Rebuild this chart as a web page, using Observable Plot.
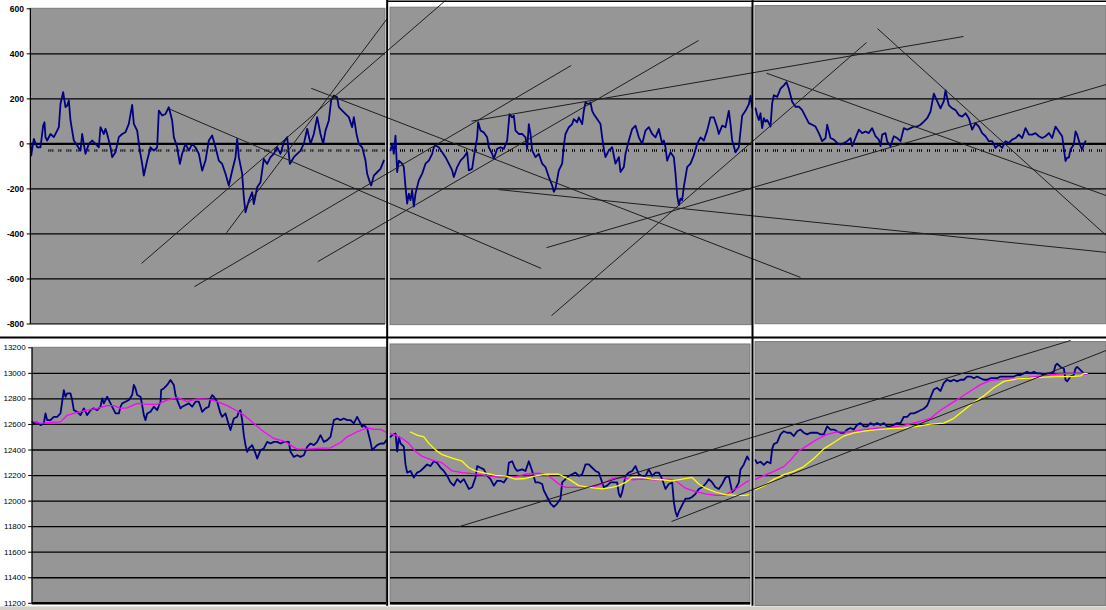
<!DOCTYPE html>
<html><head><meta charset="utf-8">
<script src="https://cdn.jsdelivr.net/npm/d3@7"></script>
<script src="https://cdn.jsdelivr.net/npm/@observablehq/plot@0.6"></script>
<style>
html,body{margin:0;padding:0;background:#fff;}
#chart{width:1106px;height:610px;overflow:hidden;}
#chart svg{display:block;}
</style></head><body><div id="chart"></div>
<script>
// ---------- DATA (t = time index, v = value) ----------
const oscTicks = [600, 400, 200, 0, -200, -400, -600, -800];
const priceTicks = [13200, 13000, 12800, 12600, 12400, 12200, 12000, 11800, 11600, 11400, 11200];

const oscP1 = [[90,0],[92,-52],[100,22],[110,-15],[120,-15],[128,81],[132,96],[135,30],[140,15],[150,44],[160,30],[170,59],[175,74],[180,178],[188,230],[195,163],[200,170],[205,193],[210,104],[215,59],[220,15],[230,-7],[240,-30],[245,44],[255,-44],[265,0],[275,15],[285,0],[295,-15],[300,74],[310,44],[315,67],[320,44],[330,-15],[335,-59],[345,-37],[355,30],[365,44],[375,52],[385,89],[395,173],[400,89],[410,59],[418,-30],[425,-89],[430,-141],[440,-74],[450,-15],[460,-30],[470,-15],[475,148],[485,126],[495,133],[505,163],[515,104],[520,30],[530,-15],[538,-89],[545,-44],[555,0],[565,-30],[575,0],[585,-15],[595,-44],[605,-119],[615,-74],[625,15],[635,37],[645,-15],[655,-74],[665,-89],[675,-133],[685,-185],[695,-119],[705,-59],[710,22],[715,-59],[725,-133],[730,-237],[735,-304],[745,-252],[755,-215],[760,-267],[770,-193],[780,-170],[790,-67],[800,-89],[810,-59],[820,-44],[830,-15],[840,-44],[850,7],[860,30],[868,-89],[880,-59],[890,-44],[900,-30],[910,0],[920,67],[930,0],[940,44],[950,119],[960,44],[968,0],[975,59],[985,104],[992,193],[1000,215],[1010,207],[1015,163],[1025,148],[1035,133],[1045,119],[1055,74],[1060,119],[1068,44],[1075,0],[1085,-15],[1095,-74],[1100,-133],[1108,-170],[1112,-185],[1120,-141],[1130,-126],[1140,-111],[1150,-74]];

const oscP2 = [[1170,-29],[1175,0],[1180,-44],[1185,37],[1190,-125],[1195,-74],[1205,-88],[1210,-103],[1215,-191],[1220,-265],[1225,-221],[1230,-250],[1235,-206],[1240,-279],[1245,-221],[1250,-191],[1255,-162],[1265,-132],[1275,-88],[1285,-74],[1295,-44],[1300,-15],[1305,-7],[1315,-15],[1325,-37],[1335,-59],[1345,-88],[1355,-118],[1360,-147],[1370,-103],[1380,-74],[1390,-59],[1400,-37],[1405,-118],[1415,-110],[1420,-59],[1425,-15],[1430,29],[1433,96],[1440,59],[1450,51],[1460,29],[1465,-15],[1475,-44],[1480,-66],[1490,-22],[1500,-15],[1510,-22],[1520,15],[1527,132],[1535,118],[1540,125],[1545,59],[1555,44],[1565,44],[1575,29],[1580,-22],[1585,88],[1590,44],[1595,-29],[1605,-59],[1615,-44],[1625,-88],[1635,-103],[1645,-147],[1655,-184],[1660,-213],[1665,-199],[1675,-118],[1685,-88],[1690,-7],[1695,44],[1705,74],[1715,88],[1720,110],[1730,96],[1735,118],[1745,88],[1750,147],[1755,184],[1765,176],[1770,184],[1775,147],[1780,132],[1790,110],[1800,88],[1805,29],[1810,-22],[1815,-59],[1825,-29],[1835,-15],[1845,-88],[1855,-59],[1860,-125],[1870,-103],[1875,-44],[1885,15],[1895,66],[1905,81],[1915,29],[1925,0],[1935,59],[1945,74],[1955,44],[1965,29],[1975,66],[1985,0],[1990,15],[1995,-15],[2000,-74],[2010,-37],[2020,-59],[2025,-132],[2030,-228],[2035,-272],[2040,-243],[2045,-250],[2050,-191],[2060,-103],[2070,-88],[2080,-51],[2090,0],[2100,29],[2110,15],[2120,59],[2130,118],[2140,118],[2150,74],[2155,44],[2165,81],[2175,74],[2185,147],[2190,88],[2195,15],[2205,-37],[2215,-15],[2225,125],[2235,147],[2245,176],[2250,213],[2255,162]];

const oscP3 = [[2265,158],[2270,128],[2275,106],[2280,136],[2285,70],[2290,114],[2295,99],[2300,106],[2305,92],[2310,77],[2315,180],[2320,216],[2330,209],[2340,245],[2350,260],[2358,274],[2365,245],[2370,216],[2375,187],[2385,165],[2395,165],[2405,150],[2415,121],[2425,92],[2435,85],[2445,77],[2455,48],[2465,12],[2475,26],[2480,85],[2490,26],[2500,19],[2510,4],[2520,-3],[2530,4],[2540,12],[2550,26],[2555,-10],[2565,26],[2575,63],[2585,48],[2595,55],[2605,48],[2615,70],[2625,34],[2635,19],[2640,-10],[2645,41],[2655,48],[2660,12],[2670,-10],[2680,34],[2690,26],[2700,12],[2710,70],[2720,63],[2730,70],[2740,77],[2750,77],[2760,85],[2770,99],[2780,114],[2790,143],[2800,223],[2810,190],[2820,158],[2830,190],[2835,238],[2845,172],[2855,158],[2865,150],[2875,128],[2885,121],[2895,136],[2905,114],[2915,63],[2925,92],[2935,77],[2945,48],[2955,34],[2965,12],[2975,12],[2985,-18],[2995,-3],[3005,-18],[3015,12],[3025,4],[3035,19],[3045,26],[3055,41],[3065,26],[3075,70],[3085,41],[3095,41],[3105,48],[3115,34],[3125,26],[3135,34],[3145,48],[3155,26],[3165,77],[3175,55],[3185,34],[3195,-76],[3200,-61],[3205,-61],[3210,-25],[3220,-3],[3225,55],[3230,41],[3240,-10],[3245,-25],[3250,-3],[3255,12]];

const priceP1 = [[95,12621],[100,12608],[110,12616],[120,12595],[130,12608],[135,12686],[140,12634],[150,12634],[160,12660],[170,12660],[180,12686],[185,12778],[190,12869],[195,12817],[200,12843],[210,12843],[215,12791],[220,12712],[230,12699],[240,12673],[250,12726],[260,12673],[270,12712],[280,12726],[290,12712],[300,12739],[305,12804],[310,12765],[320,12817],[330,12765],[340,12712],[345,12686],[355,12686],[360,12739],[365,12765],[375,12778],[385,12791],[395,12830],[400,12909],[405,12882],[410,12830],[420,12817],[425,12752],[430,12673],[435,12634],[440,12686],[450,12699],[460,12739],[470,12712],[480,12778],[482,12869],[490,12882],[500,12909],[510,12948],[520,12909],[525,12830],[530,12791],[540,12726],[545,12739],[555,12752],[565,12765],[575,12739],[585,12778],[595,12778],[605,12699],[615,12726],[625,12739],[630,12804],[635,12830],[640,12817],[650,12778],[660,12686],[665,12660],[675,12686],[685,12595],[690,12556],[700,12647],[710,12660],[715,12699],[720,12712],[725,12634],[730,12516],[735,12438],[740,12386],[745,12412],[755,12438],[765,12373],[770,12333],[780,12399],[790,12412],[800,12464],[810,12451],[820,12464],[830,12464],[840,12451],[850,12464],[860,12464],[865,12464],[870,12386],[880,12346],[890,12359],[900,12346],[910,12359],[920,12425],[930,12451],[940,12438],[950,12464],[960,12516],[970,12464],[980,12477],[990,12503],[1000,12634],[1010,12647],[1020,12634],[1030,12647],[1040,12634],[1050,12634],[1060,12608],[1070,12660],[1080,12608],[1085,12582],[1090,12595],[1100,12569],[1105,12516],[1110,12464],[1115,12399],[1120,12412],[1130,12438],[1140,12451],[1150,12451],[1158,12477]];

const priceP2 = [[1170,12503],[1175,12516],[1185,12529],[1190,12388],[1195,12503],[1200,12452],[1205,12439],[1210,12427],[1215,12287],[1220,12223],[1230,12236],[1240,12185],[1250,12223],[1260,12236],[1270,12261],[1280,12287],[1290,12274],[1300,12312],[1310,12299],[1320,12261],[1330,12236],[1340,12197],[1350,12146],[1360,12121],[1370,12172],[1380,12146],[1390,12172],[1400,12121],[1405,12095],[1415,12108],[1425,12185],[1430,12274],[1440,12261],[1450,12248],[1460,12197],[1470,12172],[1480,12121],[1490,12159],[1500,12159],[1510,12146],[1520,12185],[1525,12299],[1535,12312],[1543,12261],[1550,12236],[1565,12248],[1575,12236],[1585,12312],[1595,12236],[1605,12146],[1615,12146],[1625,12134],[1630,12083],[1640,12032],[1650,11981],[1660,11955],[1670,11981],[1680,12019],[1685,12146],[1695,12172],[1705,12197],[1715,12210],[1725,12223],[1735,12197],[1745,12210],[1755,12287],[1765,12287],[1775,12261],[1785,12236],[1795,12223],[1805,12146],[1810,12108],[1820,12121],[1830,12146],[1840,12146],[1850,12146],[1855,12057],[1860,12032],[1865,12070],[1875,12197],[1885,12223],[1895,12236],[1905,12274],[1915,12210],[1925,12197],[1935,12197],[1945,12248],[1955,12197],[1965,12223],[1975,12223],[1985,12172],[1995,12095],[2005,12134],[2015,12146],[2020,11994],[2025,11917],[2030,11879],[2035,11917],[2045,11968],[2055,12019],[2065,12019],[2075,12032],[2085,12057],[2095,12095],[2105,12108],[2115,12134],[2125,12172],[2135,12146],[2145,12108],[2155,12095],[2165,12134],[2175,12185],[2185,12197],[2195,12070],[2205,12095],[2215,12146],[2220,12248],[2230,12287],[2240,12350],[2245,12325]];

const priceP3 = [[2265,12321],[2270,12296],[2280,12308],[2290,12283],[2300,12308],[2310,12296],[2315,12409],[2320,12446],[2330,12459],[2340,12522],[2350,12547],[2360,12535],[2370,12535],[2380,12509],[2390,12547],[2400,12560],[2410,12535],[2420,12522],[2430,12535],[2440,12535],[2450,12535],[2460,12522],[2470,12522],[2480,12585],[2490,12560],[2500,12560],[2510,12547],[2520,12535],[2530,12535],[2540,12560],[2550,12572],[2560,12560],[2570,12597],[2580,12610],[2590,12585],[2600,12585],[2610,12610],[2620,12597],[2630,12610],[2640,12597],[2650,12610],[2660,12585],[2670,12585],[2680,12597],[2690,12610],[2700,12610],[2710,12660],[2720,12660],[2730,12686],[2740,12686],[2750,12698],[2760,12711],[2770,12723],[2780,12748],[2790,12811],[2800,12874],[2810,12887],[2820,12862],[2830,12925],[2840,12950],[2850,12937],[2860,12950],[2870,12937],[2880,12950],[2890,12950],[2900,12975],[2910,12975],[2920,12962],[2930,12975],[2940,12962],[2950,12950],[2960,12950],[2970,12962],[2980,12962],[2990,12962],[3000,12975],[3010,12975],[3020,12975],[3030,12975],[3040,12975],[3050,12987],[3060,12987],[3070,13000],[3080,13013],[3090,13000],[3100,13013],[3110,13000],[3120,13000],[3130,12987],[3140,13000],[3150,13000],[3160,13013],[3165,13063],[3170,13075],[3180,13050],[3190,13038],[3195,12950],[3200,12937],[3210,12975],[3220,12987],[3225,13038],[3230,13050],[3240,13025],[3250,13000],[3260,13000]];

const maPinkP1 = [[95,12626],[120,12608],[150,12616],[180,12620],[200,12672],[230,12694],[260,12712],[290,12726],[320,12747],[340,12747],[360,12726],[380,12730],[410,12765],[440,12757],[470,12757],[500,12790],[530,12812],[560,12778],[590,12800],[620,12798],[650,12778],[680,12747],[710,12705],[730,12673],[760,12608],[790,12543],[820,12490],[850,12470],[870,12438],[890,12407],[920,12407],[950,12412],[990,12417],[1020,12459],[1040,12503],[1070,12543],[1100,12574],[1120,12561],[1140,12561],[1158,12537]];
const maPinkP2 = [[1170,12529],[1185,12516],[1205,12490],[1225,12452],[1245,12388],[1265,12350],[1295,12320],[1325,12299],[1355,12236],[1385,12223],[1415,12215],[1455,12202],[1495,12185],[1535,12185],[1575,12210],[1615,12218],[1645,12197],[1675,12134],[1695,12108],[1735,12108],[1775,12108],[1805,12134],[1835,12177],[1865,12185],[1895,12167],[1925,12172],[1965,12167],[2005,12172],[2025,12159],[2055,12101],[2085,12075],[2115,12057],[2145,12045],[2175,12045],[2195,12083],[2215,12108],[2235,12146],[2245,12159]];
const maPinkP3 = [[2265,12170],[2290,12200],[2320,12233],[2350,12270],[2370,12321],[2390,12384],[2420,12434],[2450,12484],[2480,12522],[2510,12542],[2550,12542],[2590,12560],[2630,12572],[2670,12577],[2710,12592],[2750,12618],[2790,12648],[2820,12711],[2850,12761],[2880,12811],[2910,12862],[2940,12912],[2970,12945],[3010,12955],[3050,12955],[3090,12970],[3130,12980],[3170,12995],[3210,13000],[3240,13000],[3260,12995]];

const maYellowP2 = [[1230,12541],[1250,12516],[1270,12503],[1285,12452],[1305,12401],[1325,12363],[1355,12337],[1385,12312],[1405,12261],[1425,12236],[1455,12218],[1485,12202],[1515,12197],[1545,12172],[1575,12177],[1605,12197],[1635,12210],[1675,12210],[1705,12172],[1735,12121],[1765,12108],[1805,12095],[1835,12108],[1855,12121],[1875,12146],[1895,12185],[1925,12185],[1955,12172],[1985,12167],[2015,12159],[2045,12172],[2075,12185],[2095,12134],[2115,12101],[2145,12070],[2175,12050],[2205,12045],[2235,12045],[2245,12050]];
const maYellowP3 = [[2265,12089],[2290,12119],[2320,12170],[2350,12207],[2380,12233],[2410,12270],[2440,12333],[2470,12409],[2500,12459],[2530,12509],[2560,12534],[2590,12547],[2630,12560],[2670,12567],[2710,12572],[2750,12585],[2790,12602],[2830,12610],[2860,12648],[2890,12711],[2920,12774],[2950,12824],[2980,12887],[3010,12937],[3050,12957],[3090,12962],[3130,12970],[3170,12975],[3210,12975],[3240,12980],[3250,13000],[3260,13000]];

// hand-drawn trend lines: [t1, v1, t2, v2]
const trendOsc = [[423,-531,1335,637],[678,-395,1160,556],[505,156,1622,-553],[932,247,2400,-593],[582,-634,1712,348],[952,-523,2094,459],[1413,101,2889,477],[1494,-203,3318,-482],[1638,-461,3318,264],[1653,-763,2598,450],[2298,314,3318,-230],[2631,512,3318,-408]];
const trendPrice = [[1377,11801,3210,13257],[2013,11840,3318,13180]];

// ---------- LAYOUT ----------
const W = 1106, TMAX = 3318;
const GRAY = "#969696", BLUE = "#000080";
const panelsTop = [{x1:90,x2:1155,y1:-800,y2:600,tick0:145},{x1:1170,x2:2254,y1:-805,y2:605,tick0:1200},{x1:2265,x2:3318,y1:-801,y2:612,tick0:2265}];
const panelsBot = [{x1:95,x2:1158,y1:11200,y2:13200},{x1:1170,x2:2250,y1:11191,y2:13226},{x1:2265,x2:3318,y1:11179,y2:13245}];

const toRows = (list) => list.flatMap(([p, arr]) => arr.map(([t, v]) => ({panel: p, t, v})));
const links = (arr) => arr.map(([t1, v1, t2, v2]) => ({t1, v1, t2, v2}));
const grid = (panels, vals) => panels.flatMap(p => vals.map(v => ({x1: p.x1, x2: p.x2, t0: p.tick0, v})));

const osc = toRows([["p1", oscP1], ["p2", oscP2], ["p3", oscP3]]);
const price = toRows([["p1", priceP1], ["p2", priceP2], ["p3", priceP3]]);
const pink = toRows([["p1", maPinkP1], ["p2", maPinkP2], ["p3", maPinkP3]]);
const yellow = toRows([["p2", maYellowP2], ["p3", maYellowP3]]);

const fmt = d => String(d);

const topMT = 8.3, topMB = 14.5, topH = 338;
const topPlot = Plot.plot({
  width: W, height: topH, marginTop: topMT, marginBottom: topMB, marginLeft: 30, marginRight: 0,
  x: {domain: [0, TMAX], range: [0, W], axis: null},
  y: {domain: [-800, 600], axis: null},
  style: {background: "#fff", color: "#000", fontFamily: "Liberation Sans, Arial, sans-serif", overflow: "visible"},
  marks: [
    Plot.rect(panelsTop, {x1: "x1", x2: "x2", y1: "y1", y2: "y2", fill: GRAY, stroke: "#7a7a7a", strokeWidth: 1}),
    Plot.ruleY(grid(panelsTop, [400, 200, -200, -400, -600]), {x1: "x1", x2: "x2", y: "v", stroke: "#000", strokeWidth: 1.3}),
    Plot.ruleY(grid(panelsTop, [-29]), {x1: "t0", x2: "x2", y: "v", stroke: "#000", strokeWidth: 2.5, strokeDasharray: "1,1,1,1,1,5,1,1,1,5"}),
    Plot.ruleY(grid(panelsTop, [0]), {x1: "x1", x2: "x2", y: "v", stroke: "#000", strokeWidth: 2.2}),
    Plot.line(osc, {x: "t", y: "v", z: "panel", stroke: BLUE, strokeWidth: 1.8}),
    Plot.link(links(trendOsc), {x1: "t1", y1: "v1", x2: "t2", y2: "v2", stroke: "#1e1e1e", strokeWidth: 1}),
    Plot.ruleX([90], {y1: -800, y2: 600, stroke: "#000", strokeWidth: 1}),
    Plot.ruleY([-800], {x1: 90, x2: 1155, stroke: "#000", strokeWidth: 1}),
    Plot.ruleX([1160, 2256], {stroke: "#000", strokeWidth: 2, insetTop: -topMT, insetBottom: -topMB}),
    Plot.ruleY([-860], {x1: 0, x2: TMAX, stroke: "#000", strokeWidth: 2}),
    Plot.ruleY([633], {x1: 1160, x2: TMAX, stroke: "#000", strokeWidth: 1.5}),
    Plot.axisY(oscTicks, {anchor: "left", tickSize: 3.3, tickPadding: 3.3, tickFormat: fmt, fontSize: 8.5, fontWeight: "bold", stroke: "#000", fill: "#000"})
  ]
});

const botMT = 9.3, botMB = 7.2, botH = 272;
const botPlot = Plot.plot({
  width: W, height: botH, marginTop: botMT, marginBottom: botMB, marginLeft: 31.7, marginRight: 0,
  x: {domain: [0, TMAX], range: [0, W], axis: null},
  y: {domain: [11200, 13200], axis: null},
  style: {background: "#fff", color: "#000", fontFamily: "Liberation Sans, Arial, sans-serif", overflow: "visible"},
  marks: [
    Plot.rect([{x1: 0, x2: TMAX}], {x1: "x1", x2: "x2", y1: 11130, y2: 11172, fill: "#d4d0c8"}),
    Plot.rect(panelsBot, {x1: "x1", x2: "x2", y1: "y1", y2: "y2", fill: GRAY, stroke: "#7a7a7a", strokeWidth: 1}),
    Plot.ruleY(grid(panelsBot, [13000, 12800, 12600, 12400, 12200, 12000, 11800, 11600, 11400]), {x1: "x1", x2: "x2", y: "v", stroke: "#000", strokeWidth: 1.3}),
    Plot.ruleY(grid(panelsBot.slice(0, 2), [11200]), {x1: "x1", x2: "x2", y: "v", stroke: "#000", strokeWidth: 2.5}),
    Plot.line(price, {x: "t", y: "v", z: "panel", stroke: BLUE, strokeWidth: 1.8}),
    Plot.line(pink, {x: "t", y: "v", z: "panel", stroke: "#ff00ff", strokeWidth: 1.3}),
    Plot.line(yellow, {x: "t", y: "v", z: "panel", stroke: "#ffff00", strokeWidth: 1.3}),
    Plot.link(links(trendPrice), {x1: "t1", y1: "v1", x2: "t2", y2: "v2", stroke: "#1e1e1e", strokeWidth: 1}),
    Plot.ruleX([95], {y1: 11200, y2: 13200, stroke: "#000", strokeWidth: 1}),
    Plot.ruleX([1160, 2256], {stroke: "#000", strokeWidth: 2, insetTop: -botMT, insetBottom: -3}),
    Plot.axisY(priceTicks, {anchor: "left", tickSize: 3.5, tickPadding: 3, tickFormat: fmt, fontSize: 8, stroke: "#000", fill: "#000"})
  ]
});

const chart = document.getElementById("chart");
chart.appendChild(topPlot);
chart.appendChild(botPlot);
</script></body></html>
